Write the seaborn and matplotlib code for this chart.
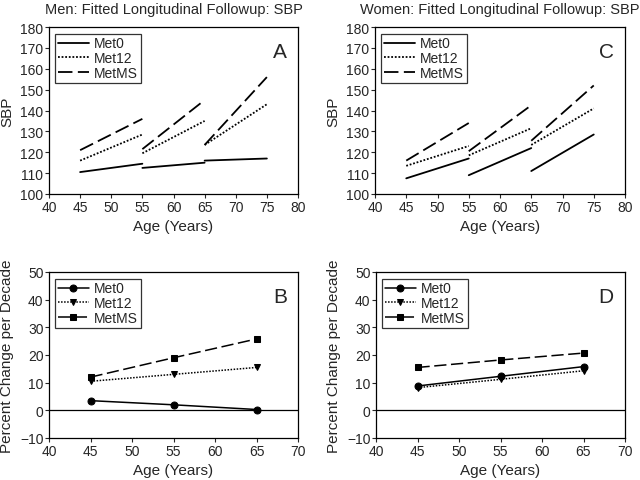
import pandas as pd
import seaborn as sns
import matplotlib.pyplot as plt

groups = ["Met0", "Met12", "MetMS"]
seg_starts = [45, 55, 65]

# fitted SBP at start / end of each 10-year segment
men_start = {"Met0": [110.5, 112.5, 116.0], "Met12": [116.0, 119.5, 123.5], "MetMS": [121.0, 121.5, 123.5]}
men_end = {"Met0": [114.5, 115.0, 117.0], "Met12": [128.5, 135.0, 143.0], "MetMS": [136.0, 145.0, 156.0]}
women_start = {"Met0": [107.5, 109.0, 111.0], "Met12": [113.5, 118.5, 123.5], "MetMS": [116.0, 120.5, 125.5]}
women_end = {"Met0": [117.0, 122.0, 128.5], "Met12": [123.0, 131.5, 141.0], "MetMS": [134.0, 142.5, 152.0]}

# percent change per decade
pct_age = [45, 55, 65]
men_pct = {"Met0": [3.5, 2.0, 0.3], "Met12": [10.5, 13.0, 15.5], "MetMS": [12.0, 19.0, 25.8]}
women_pct = {"Met0": [8.8, 12.3, 15.8], "Met12": [8.2, 11.2, 14.3], "MetMS": [15.5, 18.2, 20.7]}

styles = {"Met0": (None, "o"), "Met12": ((1, 1), "v"), "MetMS": ((8, 3), "s")}

sns.set_style("white")
plt.rcParams["font.family"] = ["Liberation Sans", "DejaVu Sans"]

fig = plt.figure(figsize=(6.4, 4.81), dpi=100)
W, H = 640, 481


def add_ax(l, t, r, b):
    return fig.add_axes([l / W, 1 - b / H, (r - l) / W, (b - t) / H])


def seg_frame(start, end):
    rows = []
    for g in groups:
        for i, a in enumerate(seg_starts):
            rows.append((g, i, a, start[g][i]))
            rows.append((g, i, a + 10, end[g][i]))
    return pd.DataFrame(rows, columns=["group", "seg", "age", "val"])


def pct_frame(p):
    rows = []
    for g in groups:
        for a, v in zip(pct_age, p[g]):
            rows.append((g, a, v))
    return pd.DataFrame(rows, columns=["group", "age", "val"])


def add_legend(ax, handles):
    leg = ax.legend(handles, groups, loc="upper left", fontsize=10, frameon=True, fancybox=False,
                    handlelength=2.2, borderpad=0.2, labelspacing=0.05, handletextpad=0.4,
                    borderaxespad=0.0, bbox_to_anchor=(0.025, 0.96))
    leg.get_frame().set_edgecolor("black")
    leg.get_frame().set_linewidth(0.9)


def style_ax(ax, xlim, ylim, yticks, ylabel, letter):
    ax.set_xlim(*xlim)
    ax.set_ylim(*ylim)
    ax.set_xticks(range(xlim[0], xlim[1] + 1, 5))
    ax.set_yticks(yticks)
    ax.set_xlabel("Age (Years)", fontsize=11)
    ax.set_ylabel(ylabel, fontsize=11)
    ax.tick_params(labelsize=10, length=3, direction="out", bottom=True, left=True, pad=1)
    for s in ax.spines.values():
        s.set_color("black")
        s.set_linewidth(0.9)
    ax.text(0.955, 0.91, letter, transform=ax.transAxes, ha="right", va="top", fontsize=15)


def top_panel(ax, start, end, title, letter):
    df = seg_frame(start, end)
    for g in groups:
        d, _ = styles[g]
        sub = df[df.group == g]
        sns.lineplot(data=sub, x="age", y="val", units="seg", estimator=None, color="black",
                     lw=1.3, ax=ax, legend=False)
        if d is not None:
            for ln in ax.lines[-3:]:
                ln.set_dashes(d)
    style_ax(ax, (40, 80), (100, 180), range(100, 181, 10), "SBP", letter)
    ax.set_title(title, fontsize=10.5, pad=10)
    add_legend(ax, [ax.lines[0], ax.lines[3], ax.lines[6]])


def bottom_panel(ax, p, letter):
    df = pct_frame(p)
    for g in groups:
        d, m = styles[g]
        sub = df[df.group == g]
        sns.lineplot(data=sub, x="age", y="val", color="black", marker=m, markersize=5,
                     markeredgecolor="black", lw=1.1, ax=ax, legend=False)
        if d is not None:
            ax.lines[-1].set_dashes(d)
    ax.axhline(0, color="black", lw=0.9)
    style_ax(ax, (40, 70), (-10, 50), range(-10, 51, 10), "Percent Change per Decade", letter)
    add_legend(ax, ax.lines[:3])


axA = add_ax(49, 28, 298, 195)
axC = add_ax(375, 28, 625, 195)
axB = add_ax(49, 273, 298, 439)
axD = add_ax(376, 273, 625, 439)

top_panel(axA, men_start, men_end, "Men: Fitted Longitudinal Followup: SBP", "A")
top_panel(axC, women_start, women_end, "Women: Fitted Longitudinal Followup: SBP", "C")
bottom_panel(axB, men_pct, "B")
bottom_panel(axD, women_pct, "D")

fig.savefig("out.png", dpi=100)
